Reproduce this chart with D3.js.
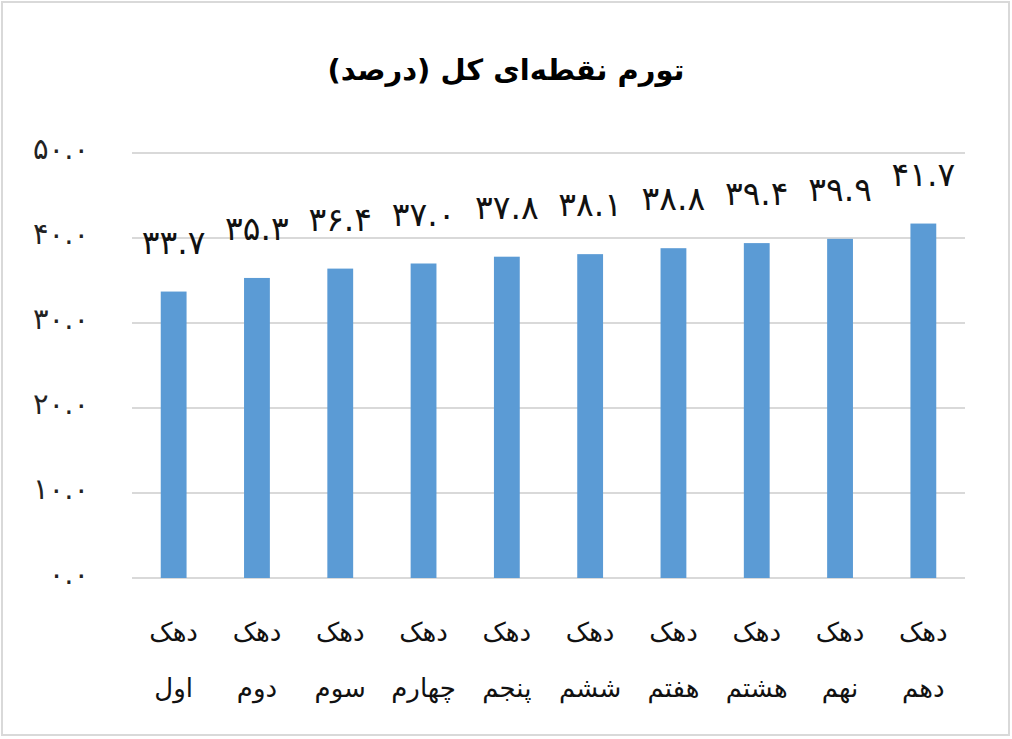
<!DOCTYPE html>
<html>
<head>
<meta charset="utf-8">
<script src="https://cdn.jsdelivr.net/npm/d3@7"></script>
<style>
  body { margin: 0; background: #fff; }
  text { font-family: "DejaVu Sans", "Noto Sans", sans-serif; }
</style>
</head>
<body>
<svg id="chart" width="1012" height="739"></svg>
<script>
const title = "تورم نقطه‌ای کل (درصد)";
const decileWord = "دهک";
const deciles = ["اول", "دوم", "سوم", "چهارم", "پنجم", "ششم", "هفتم", "هشتم", "نهم", "دهم"];
const inflation = [33.7, 35.3, 36.4, 37.0, 37.8, 38.1, 38.8, 39.4, 39.9, 41.7];
const yTicks = [0, 10, 20, 30, 40, 50];

// western digits -> persian
const fa = s => s.replace(/\d/g, d => "۰۱۲۳۴۵۶۷۸۹"[d]);
const fmt = v => fa(v.toFixed(1));

const svg = d3.select("#chart");

svg.append("rect")
  .attr("x", 2).attr("y", 2)
  .attr("width", 1007).attr("height", 733)
  .attr("fill", "#fff")
  .attr("stroke", "#d9d9d9")
  .attr("stroke-width", 2);

const x = d3.scaleBand()
  .domain(deciles)
  .range([132, 965])
  .paddingInner(0.69)
  .paddingOuter(0.345);

const y = d3.scaleLinear()
  .domain([0, 50])
  .range([578, 153]);

// gridlines
svg.append("g")
  .selectAll("line")
  .data(yTicks)
  .join("line")
    .attr("x1", 132).attr("x2", 965)
    .attr("y1", d => y(d)).attr("y2", d => y(d))
    .attr("stroke", "#d9d9d9")
    .attr("stroke-width", 2);

// y labels
svg.append("g")
  .selectAll("text")
  .data(yTicks)
  .join("text")
    .attr("x", 89)
    .attr("y", d => y(d))
    .attr("dy", "0.2em")
    .attr("text-anchor", "end")
    .attr("font-size", 29)
    .attr("fill", "#222")
    .text(d => fmt(d));

// bars
svg.append("g")
  .selectAll("rect")
  .data(inflation)
  .join("rect")
    .attr("x", (d, i) => x(deciles[i]))
    .attr("y", d => y(d))
    .attr("width", x.bandwidth())
    .attr("height", d => y(0) - y(d))
    .attr("fill", "#5b9bd5");

// value labels
svg.append("g")
  .selectAll("text")
  .data(inflation)
  .join("text")
    .attr("x", (d, i) => x(deciles[i]) + x.bandwidth() / 2)
    .attr("y", d => y(d) - 38)
    .attr("text-anchor", "middle")
    .attr("font-size", 33)
    .attr("fill", "#111")
    .text(d => fmt(d));

// category labels, two lines
const cat = svg.append("g")
  .selectAll("g")
  .data(deciles)
  .join("g")
    .attr("transform", d => `translate(${x(d) + x.bandwidth() / 2},0)`);

cat.append("text")
  .attr("y", 641)
  .attr("text-anchor", "middle")
  .attr("direction", "rtl")
  .attr("font-size", 26)
  .attr("fill", "#111")
  .text(decileWord);

cat.append("text")
  .attr("y", 697)
  .attr("text-anchor", "middle")
  .attr("direction", "rtl")
  .attr("font-size", 26)
  .attr("fill", "#111")
  .text(d => d);

svg.append("text")
  .attr("x", 506)
  .attr("y", 80)
  .attr("text-anchor", "middle")
  .attr("direction", "rtl")
  .attr("font-size", 29)
  .attr("font-weight", "bold")
  .attr("fill", "#000")
  .text(title);
</script>
</body>
</html>
